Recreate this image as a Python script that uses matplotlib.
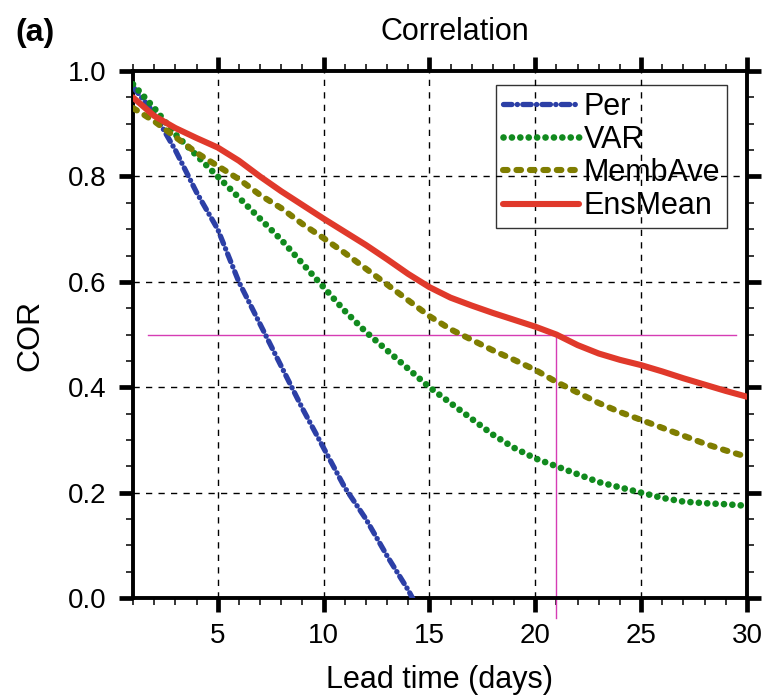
import numpy as np
import matplotlib
matplotlib.use("Agg")
import matplotlib.pyplot as plt
from matplotlib.ticker import MultipleLocator

plt.rcParams['font.family'] = ['Liberation Sans', 'DejaVu Sans']

# lead time (days)
days = np.arange(1, 31)
days_per = np.arange(1, 16)

# correlation values
cor_per = [0.97, 0.92, 0.85, 0.77, 0.70, 0.60, 0.52, 0.44, 0.36, 0.285,
           0.21, 0.15, 0.08, 0.015, -0.06]
cor_var = [0.975, 0.93, 0.88, 0.84, 0.80, 0.76, 0.72, 0.68, 0.635, 0.59,
           0.545, 0.505, 0.47, 0.435, 0.40, 0.37, 0.34, 0.31, 0.285, 0.265,
           0.25, 0.235, 0.22, 0.21, 0.20, 0.19, 0.183, 0.18, 0.178, 0.175]
cor_membave = [0.93, 0.905, 0.875, 0.845, 0.82, 0.795, 0.765, 0.74, 0.71, 0.683,
               0.655, 0.625, 0.595, 0.565, 0.535, 0.51, 0.49, 0.47, 0.452, 0.433,
               0.41, 0.39, 0.37, 0.353, 0.338, 0.323, 0.308, 0.293, 0.28, 0.268]
cor_ensmean = [0.95, 0.915, 0.892, 0.873, 0.855, 0.83, 0.8, 0.772, 0.746, 0.72,
               0.695, 0.67, 0.643, 0.615, 0.59, 0.57, 0.555, 0.541, 0.528, 0.515,
               0.50, 0.48, 0.464, 0.452, 0.442, 0.43, 0.417, 0.405, 0.393, 0.382]

thresh = 0.5
cross_day = 21

fig = plt.figure(figsize=(7.63, 6.97), dpi=100)
ax = fig.add_axes([0.1743, 0.142, 0.8047, 0.756])

# grid
for v in [5, 10, 15, 20, 25]:
    ax.axvline(v, color='k', lw=1.0, ls=(0, (4.5, 4.5)), zorder=1)
for v in [0.2, 0.4, 0.6, 0.8]:
    ax.axhline(v, color='k', lw=1.0, ls=(0, (4.5, 4.5)), zorder=1)

# reference lines
ax.plot([1.7, 29.5], [thresh, thresh], color='#d63cb4', lw=1.0, zorder=2)
ax.plot([cross_day, cross_day], [thresh, -0.037], color='#d63cb4', lw=1.0,
        zorder=2, clip_on=False)

l1, = ax.plot(days_per, cor_per, color='#2c3fa6', lw=3.8, label='Per', zorder=3,
              dash_capstyle='round')
l1.set_dashes([1.6, 1.0, 0.05, 1.0])
l2, = ax.plot(days, cor_var, color='#118a1e', lw=4.8, label='VAR', zorder=3,
              dash_capstyle='round')
l2.set_dashes([0.01, 1.25])
l3, = ax.plot(days, cor_membave, color='#7f7d00', lw=4.4, label='MembAve', zorder=3,
              dash_capstyle='round')
l3.set_dashes([0.75, 1.45])
ax.plot(days, cor_ensmean, color='#e0392b', lw=4.4, label='EnsMean', zorder=4,
        solid_capstyle='round')

ax.set_xlim(1, 30)
ax.set_ylim(0, 1.0)
ax.xaxis.set_major_locator(MultipleLocator(5))
ax.xaxis.set_minor_locator(MultipleLocator(1))
ax.yaxis.set_major_locator(MultipleLocator(0.2))
ax.yaxis.set_minor_locator(MultipleLocator(0.05))
ax.set_yticks([0.0, 0.2, 0.4, 0.6, 0.8, 1.0])
ax.set_yticklabels(['0.0', '0.2', '0.4', '0.6', '0.8', '1.0'])

for s in ax.spines.values():
    s.set_linewidth(2.8)
ax.tick_params(which='both', direction='out', top=True, right=True,
               labelsize=20)
ax.tick_params(which='major', length=10, width=3.4)
ax.tick_params(which='minor', length=5, width=1.1)
ax.tick_params(axis='y', which='major', pad=9)
ax.tick_params(axis='x', which='major', pad=8)

leg = ax.legend(loc='upper right', bbox_to_anchor=(0.967, 0.973),
                borderaxespad=0, fontsize=22, frameon=True, fancybox=False,
                handlelength=2.5, handletextpad=0.15, labelspacing=0.1,
                borderpad=0.22)
leg.get_frame().set_facecolor('none')
leg.get_frame().set_edgecolor('k')
leg.get_frame().set_linewidth(1.0)
leg.set_zorder(5)

fig.text(455 / 763, 1 - 32 / 697, 'Correlation', fontsize=22,
         ha='center', va='center')
fig.text(15 / 763, 1 - 33 / 697, '(a)', fontsize=23, fontweight='bold',
         ha='left', va='center')
fig.text(30 / 763, 1 - 335 / 697, 'COR', fontsize=23, rotation=90,
         ha='center', va='center')
fig.text(439 / 763, 1 - 680 / 697, 'Lead time (days)', fontsize=22,
         ha='center', va='center')

fig.savefig('out.png', dpi=100)
